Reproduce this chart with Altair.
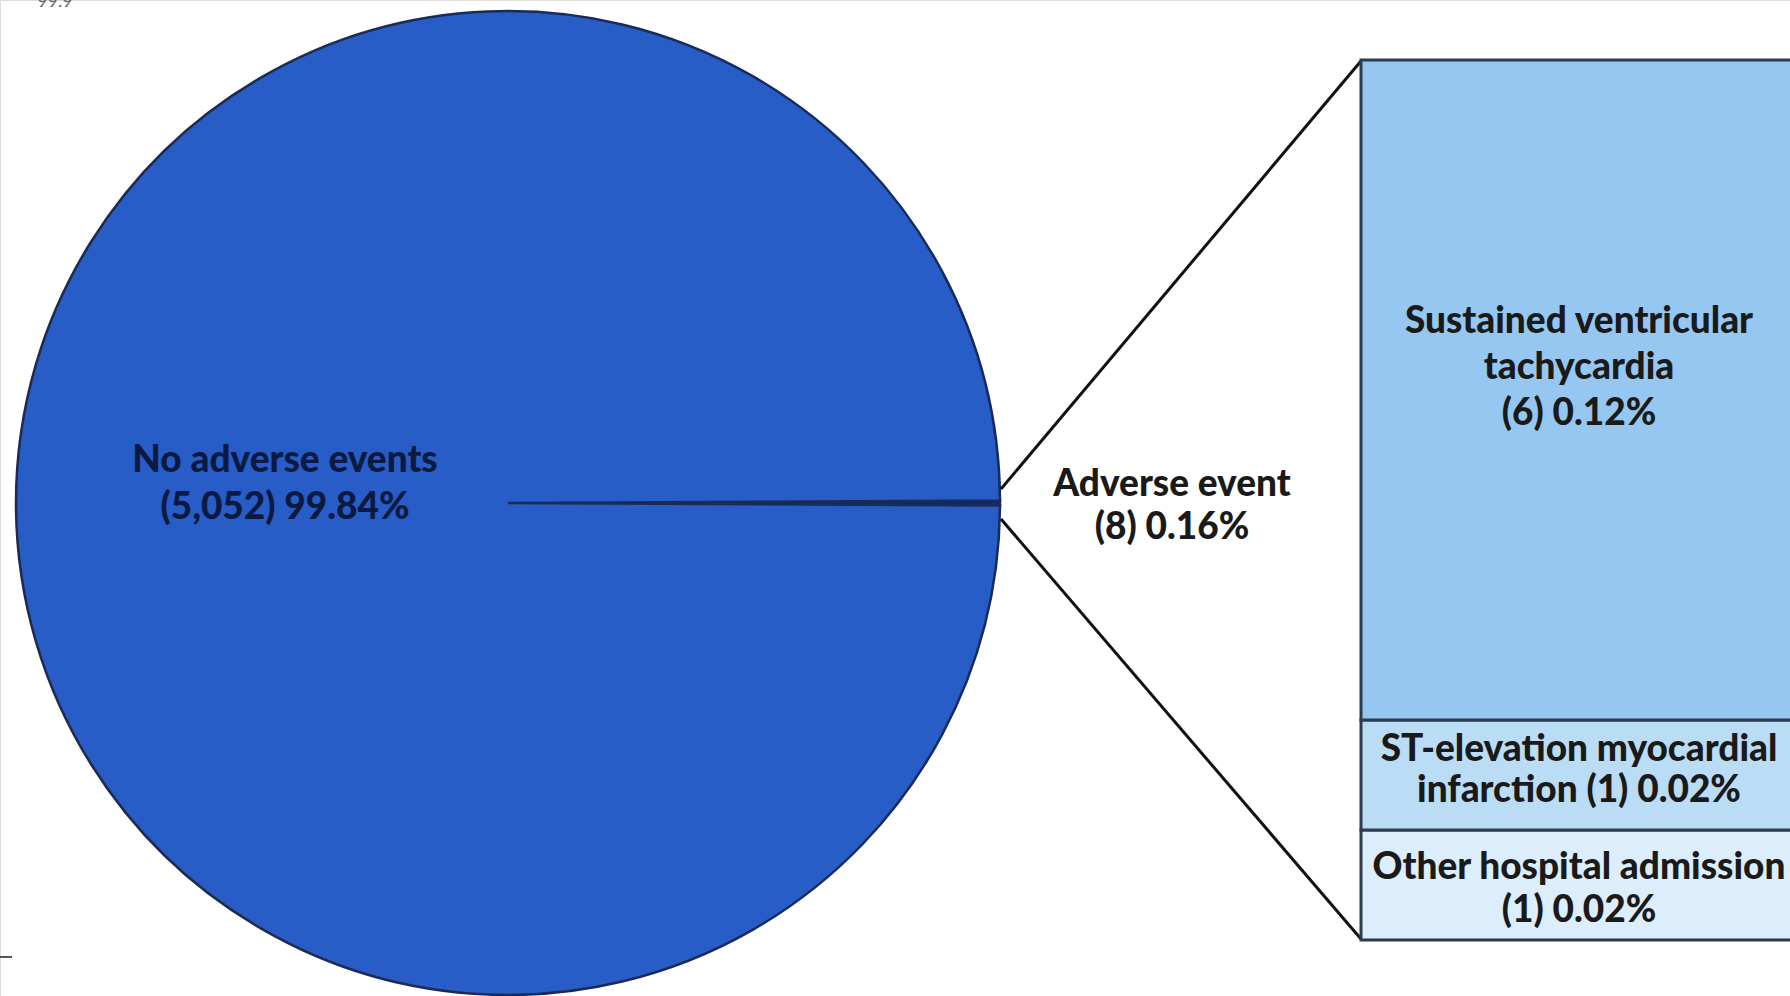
import math
import altair as alt
import pandas as pd

# ---- data ----
pie_labels = ["Adverse event", "No adverse events"]
pie_counts = [8, 5052]
pie_text = ["Adverse event\n(8) 0.16%", "No adverse events\n(5,052) 99.84%"]

bar_labels = ["Other hospital admission", "ST-elevation myocardial infarction", "Sustained ventricular tachycardia"]
bar_counts = [1, 1, 6]
bar_text = [
    "Other hospital admission\n(1) 0.02%",
    "ST-elevation myocardial\ninfarction (1) 0.02%",
    "Sustained ventricular\ntachycardia\n(6) 0.12%",
]
bar_colors = ["#DCEDFB", "#BBDCF5", "#95C7F1"]

pie_df = pd.DataFrame({"label": pie_labels, "count": pie_counts, "ord": [0, 1]})

bar_df = pd.DataFrame({"label": bar_labels, "count": bar_counts, "text": bar_text})
bar_df["y1"] = bar_df["count"].cumsum()
bar_df["y0"] = bar_df["y1"] - bar_df["count"]
bar_df["ymid"] = (bar_df["y0"] + bar_df["y1"]) / 2
total_adverse = sum(bar_counts)

FONT = "Lato"
TXT = "#1a1a1a"
FS = 37
FW = 900

# pie: tiny slice centred on 3 o'clock
frac = pie_counts[0] / sum(pie_counts)
start = math.pi / 2 - frac * math.pi
pie = alt.Chart(pie_df).mark_arc(stroke="#1a2b55", strokeWidth=2.5).encode(
    theta=alt.Theta("count:Q", stack=True, scale=alt.Scale(range=[start, start + 2 * math.pi])),
    order=alt.Order("ord:Q"),
    color=alt.Color("label:N", scale=alt.Scale(domain=pie_labels, range=["#0f2a66", "#285CC6"]), legend=None),
    x=alt.value(508),
    y=alt.value(503),
    radius=alt.value(492),
)

pie_label = alt.Chart(pd.DataFrame({"t": [pie_text[1]]})).mark_text(
    font=FONT, fontWeight=FW, fontSize=FS, lineBreak="\n", lineHeight=47,
    align="center", baseline="middle", color="#0c1a42",
).encode(text="t:N", x=alt.value(285), y=alt.value(461))

adv_label = alt.Chart(pd.DataFrame({"t": [pie_text[0]]})).mark_text(
    font=FONT, fontWeight=FW, fontSize=FS, lineBreak="\n", lineHeight=43,
    align="center", baseline="middle", color=TXT,
).encode(text="t:N", x=alt.value(1172), y=alt.value(485))

yscale = alt.Scale(domain=[0, total_adverse], range=[940, 60])

bars = alt.Chart(bar_df).mark_bar(stroke="#2b3b50", strokeWidth=3).encode(
    y=alt.Y("y0:Q", scale=yscale, axis=None),
    y2="y1:Q",
    x=alt.value(1361),
    x2=alt.value(1810),
    color=alt.Color("label:N", scale=alt.Scale(domain=bar_labels, range=bar_colors), legend=None),
)


def seg_label(name, dy, lh):
    return alt.Chart(bar_df).transform_filter(alt.datum.label == name).mark_text(
        font=FONT, fontWeight=FW, fontSize=FS, lineBreak="\n", lineHeight=lh,
        align="center", baseline="middle", color=TXT, dy=dy,
    ).encode(y=alt.Y("ymid:Q", scale=yscale, axis=None), x=alt.value(1579), text="text:N")


lab_other = seg_label(bar_labels[0], -17, 43)
lab_stemi = seg_label(bar_labels[1], -25, 41)
lab_svt = seg_label(bar_labels[2], -68, 46)

conn_up = alt.Chart(pd.DataFrame({"a": [0]})).mark_rule(color="#111111", strokeWidth=3).encode(
    x=alt.value(1001), y=alt.value(489), x2=alt.value(1361), y2=alt.value(61)
)
conn_dn = alt.Chart(pd.DataFrame({"a": [0]})).mark_rule(color="#111111", strokeWidth=3).encode(
    x=alt.value(1001), y=alt.value(519), x2=alt.value(1361), y2=alt.value(939)
)
dash = alt.Chart(pd.DataFrame({"a": [0]})).mark_rule(color="#555555", strokeWidth=2).encode(
    x=alt.value(0), x2=alt.value(12), y=alt.value(957)
)
corner = alt.Chart(pd.DataFrame({"t": ["99.9"]})).mark_text(
    font=FONT, fontSize=18, color="#666666", align="center", baseline="middle"
).encode(text="t:N", x=alt.value(55), y=alt.value(2))

chart = alt.layer(
    pie, conn_up, conn_dn, bars, pie_label, adv_label, lab_other, lab_stemi, lab_svt, dash, corner
).resolve_scale(color="independent").properties(
    width=1790, height=996, padding=0, autosize=alt.AutoSizeParams(type="none")
).configure_view(stroke=None).configure(background="white")

chart.save("out.html", embed_options={"renderer": "svg", "actions": False})
